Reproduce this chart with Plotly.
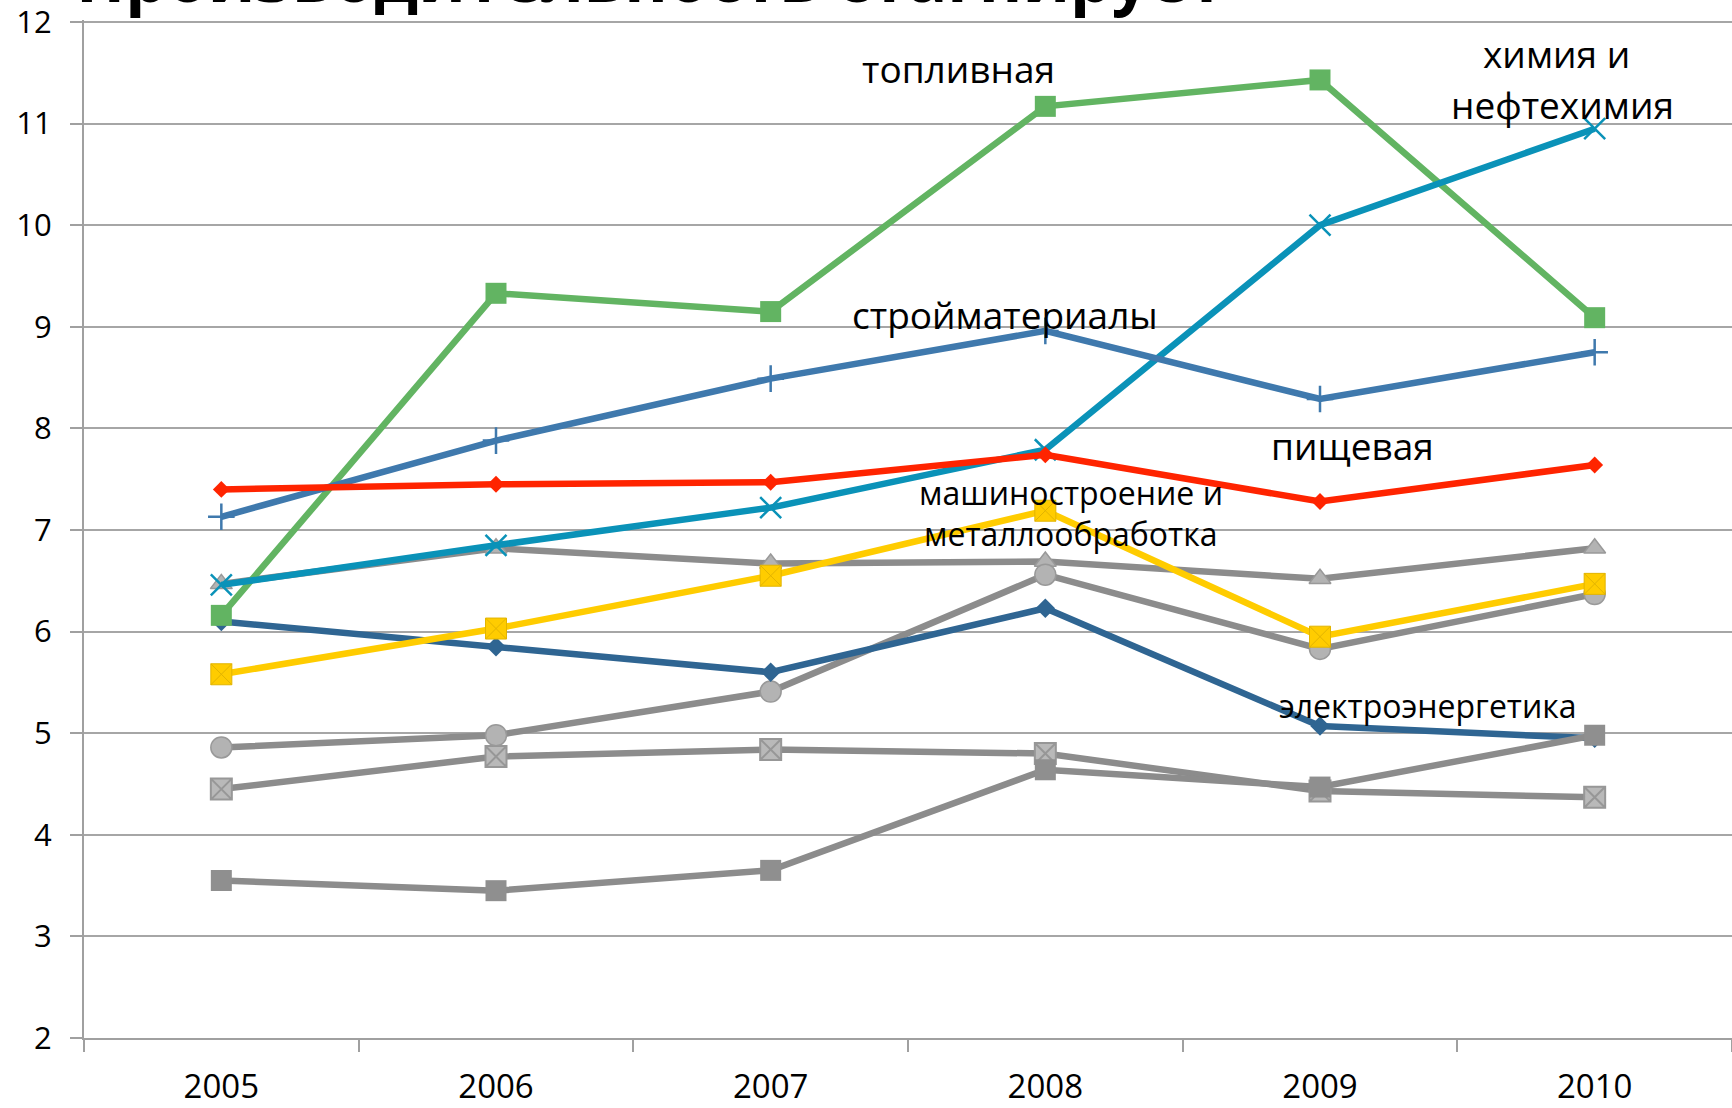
import plotly.graph_objects as go

years = ["2005", "2006", "2007", "2008", "2009", "2010"]
fuel = [6.16, 9.33, 9.15, 11.17, 11.43, 9.09]
construction = [7.13, 7.88, 8.49, 8.96, 8.29, 8.75]
chemistry = [6.46, 6.85, 7.22, 7.79, 10.00, 10.95]
food = [7.40, 7.45, 7.47, 7.74, 7.28, 7.64]
machinery = [5.58, 6.03, 6.55, 7.19, 5.95, 6.47]
power = [6.10, 5.85, 5.60, 6.23, 5.07, 4.95]
gray_triangle = [6.47, 6.82, 6.67, 6.69, 6.52, 6.82]
gray_circle = [4.86, 4.98, 5.41, 6.56, 5.83, 6.37]
gray_xsquare = [4.45, 4.77, 4.84, 4.80, 4.43, 4.37]
gray_square = [3.55, 3.45, 3.65, 4.64, 4.47, 4.98]
y_ticks = [2, 3, 4, 5, 6, 7, 8, 9, 10, 11, 12]

title_text = "Производительность стагнирует"
labels = ["топливная", "химия и", "нефтехимия", "стройматериалы", "пищевая",
          "машиностроение и", "металлообработка", "электроэнергетика"]

FONT = "Open Sans"
LW = 6.5

fig = go.Figure()

def add(y, color, symbol, size, mcolor=None, lcolor=None, lwidth=0):
    fig.add_trace(go.Scatter(
        x=years, y=y, mode="lines+markers",
        line=dict(color=color, width=LW),
        marker=dict(symbol=symbol, size=size, color=mcolor or color,
                    line=dict(color=lcolor or color, width=lwidth)),
        showlegend=False, hoverinfo="skip", cliponaxis=False))

add(gray_xsquare, "#8C8C8C", "square-x", 21, "#B9B9B9", "#979797", 2)
add(gray_triangle, "#8C8C8C", "triangle-up", 19, "#B3B3B3", "#999999", 1.5)
add(gray_circle, "#8C8C8C", "circle", 21, "#B3B3B3", "#999999", 1.5)
add(power, "#2F6592", "diamond", 15)
add(gray_square, "#8C8C8C", "square", 21, "#8F8F8F", "#8F8F8F", 0)
add(machinery, "#FFCC00", "square-x", 21, "#FFCC00", "#E2B400", 1)
add(fuel, "#62B462", "square", 21)
add(chemistry, "#0A92B8", "x-thin", 21, "#0A92B8", "#0A92B8", 2.5)
add(construction, "#3F79AD", "cross-thin", 19, "#3F79AD", "#3F79AD", 2.5)
add(food, "#FF2400", "diamond", 13)

big = 37
small = 32
ann_pos = [
    (2.685, 11.545, big), (4.862, 11.695, big), (4.884, 11.185, big),
    (2.853, 9.123, big), (4.12, 7.832, big),
    (3.093, 7.37, small), (3.093, 6.97, small), (4.393, 5.27, small),
]
annotations = []
for text, (ax, ay, fs) in zip(labels, ann_pos):
    annotations.append(dict(x=ax, y=ay, xref="x", yref="y", text=text,
                            showarrow=False, xanchor="center", yanchor="middle",
                            font=dict(family=FONT, size=fs, color="#000000")))
annotations.append(dict(x=0, y=1, xref="paper", yref="paper", text=title_text,
                        showarrow=False, xanchor="left", yanchor="bottom",
                        xshift=-10, yshift=-3,
                        font=dict(family=FONT, size=66, color="#000000", weight="bold")))

fig.update_layout(
    width=1732, height=1108,
    margin=dict(l=84, r=0, t=15, b=67),
    paper_bgcolor="white", plot_bgcolor="white",
    font=dict(family=FONT, size=33, color="#000000"),
    annotations=annotations,
)
fig.update_xaxes(
    type="category", range=[-0.5, 5.5], tickson="boundaries",
    ticks="outside", ticklen=12, tickwidth=1.5, tickcolor="#A0A0A0",
    showline=True, linecolor="#A0A0A0", linewidth=2, showgrid=False,
    tickfont=dict(family=FONT, size=33, color="#000000"), ticklabelstandoff=18,
)
fig.update_yaxes(
    range=[2, 12.02], tickmode="array", tickvals=y_ticks,
    ticktext=[str(v) for v in y_ticks],
    ticks="outside", ticklen=12, tickwidth=1.5, tickcolor="#A0A0A0",
    showline=True, linecolor="#A0A0A0", linewidth=2,
    showgrid=True, gridcolor="#A6A6A6", gridwidth=1.5, zeroline=False,
    tickfont=dict(family=FONT, size=31, color="#000000"), ticklabelstandoff=12,
    ticklabeloverflow="allow",
)

fig.write_html("out.html")
